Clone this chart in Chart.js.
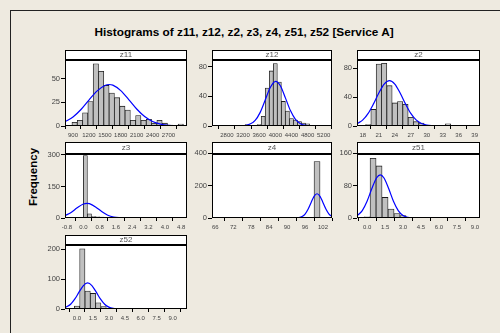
<!DOCTYPE html>
<html>
<head>
<meta charset="utf-8">
<script src="https://cdn.jsdelivr.net/npm/chart.js@4/dist/chart.umd.min.js"></script>
<style>
  html, body { margin:0; padding:0; background:#EEEAE0; width:500px; height:333px; overflow:hidden; }
  #frame { position:absolute; left:10px; top:10px; width:600px; height:400px; border-left:1px solid #222; border-top:1px solid #222; }
  #title { position:absolute; left:0; width:488px; top:25px; text-align:center; font:bold 11.8px "Liberation Sans", Arial, sans-serif; color:#000; }
  #ylab { position:absolute; left:33px; top:177px; transform:translate(-50%,-50%) rotate(-90deg); font:bold 11.5px "Liberation Sans", Arial, sans-serif; color:#000; white-space:nowrap; }
  canvas { position:absolute; }
</style>
</head>
<body>
<div id="frame"></div>
<div id="title">Histograms of z11, z12, z2, z3, z4, z51, z52 [Service A]</div>
<div id="ylab">Frequency</div>
<canvas id="c_z11"></canvas>
<canvas id="c_z12"></canvas>
<canvas id="c_z2"></canvas>
<canvas id="c_z3"></canvas>
<canvas id="c_z4"></canvas>
<canvas id="c_z51"></canvas>
<canvas id="c_z52"></canvas>
<script>
// ---------- data ----------
const panelNames = ['z11', 'z12', 'z2', 'z3', 'z4', 'z51', 'z52'];

const z11Bins   = [930, 1030, 1130, 1230, 1330, 1430, 1530, 1630, 1730, 1830, 1930, 2030, 2130, 2230, 2330, 2430, 2530, 2630, 2730, 2830, 2930];
const z11Counts = [4, 6, 14, 26, 66, 58, 43, 35, 30, 21, 17, 6, 11, 6, 7, 3, 6, 3, 1, 0, 2];
const z11CurveX = [750, 900, 1050, 1200, 1350, 1500, 1580, 1650, 1800, 1950, 2100, 2250, 2400, 2550, 2700, 2850, 3000];
const z11CurveY = [4.6, 9.6, 17.5, 27.5, 37, 43, 44, 43.3, 37.5, 28, 18, 10, 4.8, 2, 0.7, 0.2, 0.05];
const z11XTicks = [900, 1200, 1500, 1800, 2100, 2400, 2700];
const z11XLabels = ['900', '1200', '1500', '1800', '2100', '2400', '2700'];
const z11YTicks = [0, 25, 50];

const z12Bins   = [2500, 2600, 2700, 2800, 2900, 3000, 3100, 3200, 3300, 3400, 3500, 3600, 3700, 3800, 3900, 4000, 4100, 4200, 4300, 4400, 4500, 4600, 4700, 4800, 4900, 5000, 5100, 5200];
const z12Counts = [1, 0, 0, 0, 0, 0, 0, 1, 2, 1, 1, 2, 13, 51, 74, 84, 59, 33, 20, 10, 8, 6, 4, 3, 1, 0, 1, 1];
const z12CurveX = [3000, 3250, 3500, 3625, 3750, 3875, 4010, 4125, 4250, 4375, 4500, 4625, 4750, 5000];
const z12CurveY = [0, 0.6, 7.5, 18.3, 35, 51.8, 60, 54, 37.8, 20.7, 8.8, 2.9, 0.75, 0];
const z12XTicks = [2800, 3200, 3600, 4000, 4400, 4800, 5200];
const z12XLabels = ['2800', '3200', '3600', '4000', '4400', '4800', '5200'];
const z12YTicks = [0, 40, 80];

const z2Bins   = [17, 18, 19, 20, 21, 22, 23, 24, 25, 26, 27, 28, 29, 30, 31, 32, 33, 34, 35, 36, 37, 38, 39];
const z2Counts = [0, 0, 2, 23, 86, 87, 56, 32, 34, 30, 12, 6, 4, 1, 1, 0, 0, 3, 0, 0, 0, 0, 1];
const z2CurveX = [17, 18, 19, 20, 21, 22, 23, 24, 25, 26, 27, 28, 29, 30, 31, 32];
const z2CurveY = [3.5, 8.5, 17.5, 30.7, 45.7, 58.2, 63, 58.2, 45.7, 30.7, 17.5, 8.5, 3.5, 1.25, 0.4, 0.1];
const z2XTicks = [18, 21, 24, 27, 30, 33, 36, 39];
const z2XLabels = ['18', '21', '24', '27', '30', '33', '36', '39'];
const z2YTicks = [0, 40, 80];

const z3Bins   = [-0.1, 0.1, 0.3, 0.5, 0.7, 0.9, 1.1, 1.3];
const z3Counts = [0, 297, 20, 7, 6, 4, 2, 1];
const z3CurveX = [-0.9, -0.6, -0.3, 0.0, 0.18, 0.3, 0.6, 0.9, 1.2, 1.5, 1.8, 2.0];
const z3CurveY = [10.9, 26.6, 48.5, 66.5, 70, 68.4, 52.8, 30.6, 13.3, 4.3, 1.1, 0.3];
const z3XTicks = [-0.8, 0.0, 0.8, 1.6, 2.4, 3.2, 4.0, 4.8];
const z3XLabels = ['-0.8', '0.0', '0.8', '1.6', '2.4', '3.2', '4.0', '4.8'];
const z3YTicks = [0, 150, 300];

const z4Bins   = [96, 98, 100];
const z4Counts = [1, 4, 349];
const z4CurveX = [92, 93, 94, 95, 96, 97, 98, 99, 100, 101, 102, 103, 104, 105];
const z4CurveY = [0.1, 0.6, 2.5, 8.9, 24.5, 54, 95, 134, 150, 134, 95, 54, 24.5, 8.9];
const z4XTicks = [66, 72, 78, 84, 90, 96, 102];
const z4XLabels = ['66', '72', '78', '84', '90', '96', '102'];
const z4YTicks = [0, 200, 400];

const z51Bins   = [0.0, 0.5, 1.0, 1.5, 2.0, 2.5, 3.0];
const z51Counts = [3, 148, 129, 51, 22, 11, 6];
const z51CurveX = [-0.8, -0.4, 0.0, 0.4, 0.8, 1.1, 1.4, 1.8, 2.2, 2.6, 3.0, 3.4, 3.8, 4.2];
const z51CurveY = [6.4, 18.4, 41.6, 73, 99.7, 107, 99.7, 73, 41.6, 18.4, 6.4, 1.7, 0.4, 0.05];
const z51XTicks = [0.0, 1.5, 3.0, 4.5, 6.0, 7.5, 9.0];
const z51XLabels = ['0.0', '1.5', '3.0', '4.5', '6.0', '7.5', '9.0'];
const z51YTicks = [0, 80, 160];

const z52Bins   = [0.0, 0.5, 1.0, 1.5, 2.0, 2.5, 3.0];
const z52Counts = [10, 201, 60, 52, 21, 8, 2];
const z52CurveX = [-1.1, -0.6, -0.2, 0.2, 0.6, 1.0, 1.4, 1.8, 2.2, 2.6, 3.0, 3.4, 3.8, 4.2];
const z52CurveY = [4.7, 16, 33.6, 57, 78.3, 87, 78.3, 57, 33.6, 16, 6.2, 1.9, 0.5, 0.1];
const z52XTicks = [0.0, 1.5, 3.0, 4.5, 6.0, 7.5, 9.0];
const z52XLabels = ['0.0', '1.5', '3.0', '4.5', '6.0', '7.5', '9.0'];
const z52YTicks = [0, 100, 200];

// ---------- layout ----------
const YW = 30, RP = 12, XH = 18, TOPX = 2;
const FONT = '"Liberation Sans", Arial, sans-serif';

const panelPlugin = {
  id: 'panelFrame',
  beforeDraw(chart, args, opts) {
    const { ctx, chartArea: a } = chart;
    ctx.save();
    ctx.fillStyle = '#ffffff';
    ctx.fillRect(a.left, a.top, a.right - a.left, a.bottom - a.top);
    ctx.fillRect(a.left, a.top - opts.stripH, a.right - a.left, opts.stripH);
    ctx.restore();
  },
  afterDraw(chart, args, opts) {
    const { ctx, chartArea: a } = chart;
    const l = Math.round(a.left) + 0.5, r = Math.round(a.right) - 0.5;
    const t = Math.round(a.top) + 0.5, b = Math.round(a.bottom) - 0.5;
    const st = Math.round(a.top - opts.stripH) + 0.5;
    ctx.save();
    ctx.strokeStyle = '#000';
    ctx.lineWidth = 1;
    ctx.strokeRect(l, t, r - l, b - t);
    ctx.strokeRect(l, st, r - l, t - st);
    ctx.beginPath(); ctx.moveTo(l, t + 1); ctx.lineTo(r, t + 1); ctx.stroke();
    ctx.fillStyle = '#555';
    ctx.font = '8px ' + FONT;
    ctx.textAlign = 'center';
    ctx.textBaseline = 'middle';
    ctx.fillText(opts.label, (a.left + a.right) / 2, a.top - opts.stripH / 2 + 0.5);
    ctx.restore();
  }
};

function makePanel(name, pos, bins, counts, curveX, curveY, xMin, xMax, xTicks, xLabels, yMax, yTicks) {
  const cv = document.getElementById('c_' + name);
  const w = (pos.R - pos.L) + YW + RP;
  const h = TOPX + (pos.B - pos.S) + XH;
  cv.width = w; cv.height = h;
  cv.style.width = w + 'px'; cv.style.height = h + 'px';
  cv.style.left = (pos.L - YW) + 'px';
  cv.style.top = (pos.S - TOPX) + 'px';
  const stripH = pos.T - pos.S;
  new Chart(cv, {
    type: 'bar',
    data: {
      datasets: [
        {
          type: 'line',
          data: curveX.map((x, i) => ({ x: x, y: curveY[i] })),
          borderColor: '#0000ff',
          borderWidth: 1.2,
          pointRadius: 0,
          cubicInterpolationMode: 'monotone',
          fill: false,
          order: 0
        },
        {
          type: 'bar',
          data: bins.map((x, i) => ({ x: x, y: counts[i] })),
          backgroundColor: '#c0c0c0',
          borderColor: '#1a1a1a',
          borderWidth: 0.8,
          borderSkipped: false,
          barPercentage: 1,
          categoryPercentage: 1,
          order: 1
        }
      ]
    },
    options: {
      responsive: false,
      animation: false,
      devicePixelRatio: 1,
      layout: { padding: { top: TOPX + stripH, right: RP, left: 0, bottom: 0 } },
      plugins: {
        legend: { display: false },
        tooltip: { enabled: false },
        panelFrame: { stripH: stripH, label: name }
      },
      scales: {
        x: {
          type: 'linear',
          min: xMin, max: xMax,
          offset: false,
          border: { display: false },
          grid: { display: true, drawOnChartArea: false, drawTicks: true, tickLength: 3, tickColor: '#000' },
          ticks: {
            autoSkip: false, maxRotation: 0, minRotation: 0, padding: 3,
            color: '#444', font: { size: 6, family: FONT },
            callback: (v, i) => xLabels[i]
          },
          afterBuildTicks: (s) => { s.ticks = xTicks.map(v => ({ value: v })); },
          afterFit: (s) => { s.height = XH; s.paddingLeft = 0; s.paddingRight = 0; }
        },
        y: {
          type: 'linear',
          min: 0, max: yMax,
          border: { display: false },
          grid: { display: true, drawOnChartArea: false, drawTicks: true, tickLength: 4, tickColor: '#000' },
          ticks: {
            autoSkip: false, padding: 1,
            color: '#444', font: { size: 7.5, family: FONT }
          },
          afterBuildTicks: (s) => { s.ticks = yTicks.map(v => ({ value: v })); },
          afterFit: (s) => { s.width = YW; s.paddingTop = 0; s.paddingBottom = 0; }
        }
      }
    },
    plugins: [panelPlugin]
  });
}

const col = [{ L: 65, R: 187 }, { L: 212, R: 332 }, { L: 357, R: 480 }];
const row = [{ S: 50, T: 59, B: 126 }, { S: 142, T: 153, B: 218 }, { S: 235, T: 244, B: 309 }];
const P = (c, r) => Object.assign({}, col[c], row[r]);

makePanel('z11', P(0, 0), z11Bins, z11Counts, z11CurveX, z11CurveY, 749, 3048, z11XTicks, z11XLabels, 71, z11YTicks);
makePanel('z12', P(1, 0), z12Bins, z12Counts, z12CurveX, z12CurveY, 2430, 5406, z12XTicks, z12XLabels, 90, z12YTicks);
makePanel('z2',  P(2, 0), z2Bins,  z2Counts,  z2CurveX,  z2CurveY,  16.9, 40, z2XTicks, z2XLabels, 93, z2YTicks);
makePanel('z3',  P(0, 1), z3Bins,  z3Counts,  z3CurveX,  z3CurveY,  -0.9, 5.09, z3XTicks, z3XLabels, 309, z3YTicks);
makePanel('z4',  P(1, 1), z4Bins,  z4Counts,  z4CurveX,  z4CurveY,  64.9, 105, z4XTicks, z4XLabels, 402, z4YTicks);
makePanel('z51', P(2, 1), z51Bins, z51Counts, z51CurveX, z51CurveY, -0.84, 9.42, z51XTicks, z51XLabels, 161, z51YTicks);
makePanel('z52', P(0, 2), z52Bins, z52Counts, z52CurveX, z52CurveY, -1.13, 10.35, z52XTicks, z52XLabels, 217, z52YTicks);
</script>
</body>
</html>
